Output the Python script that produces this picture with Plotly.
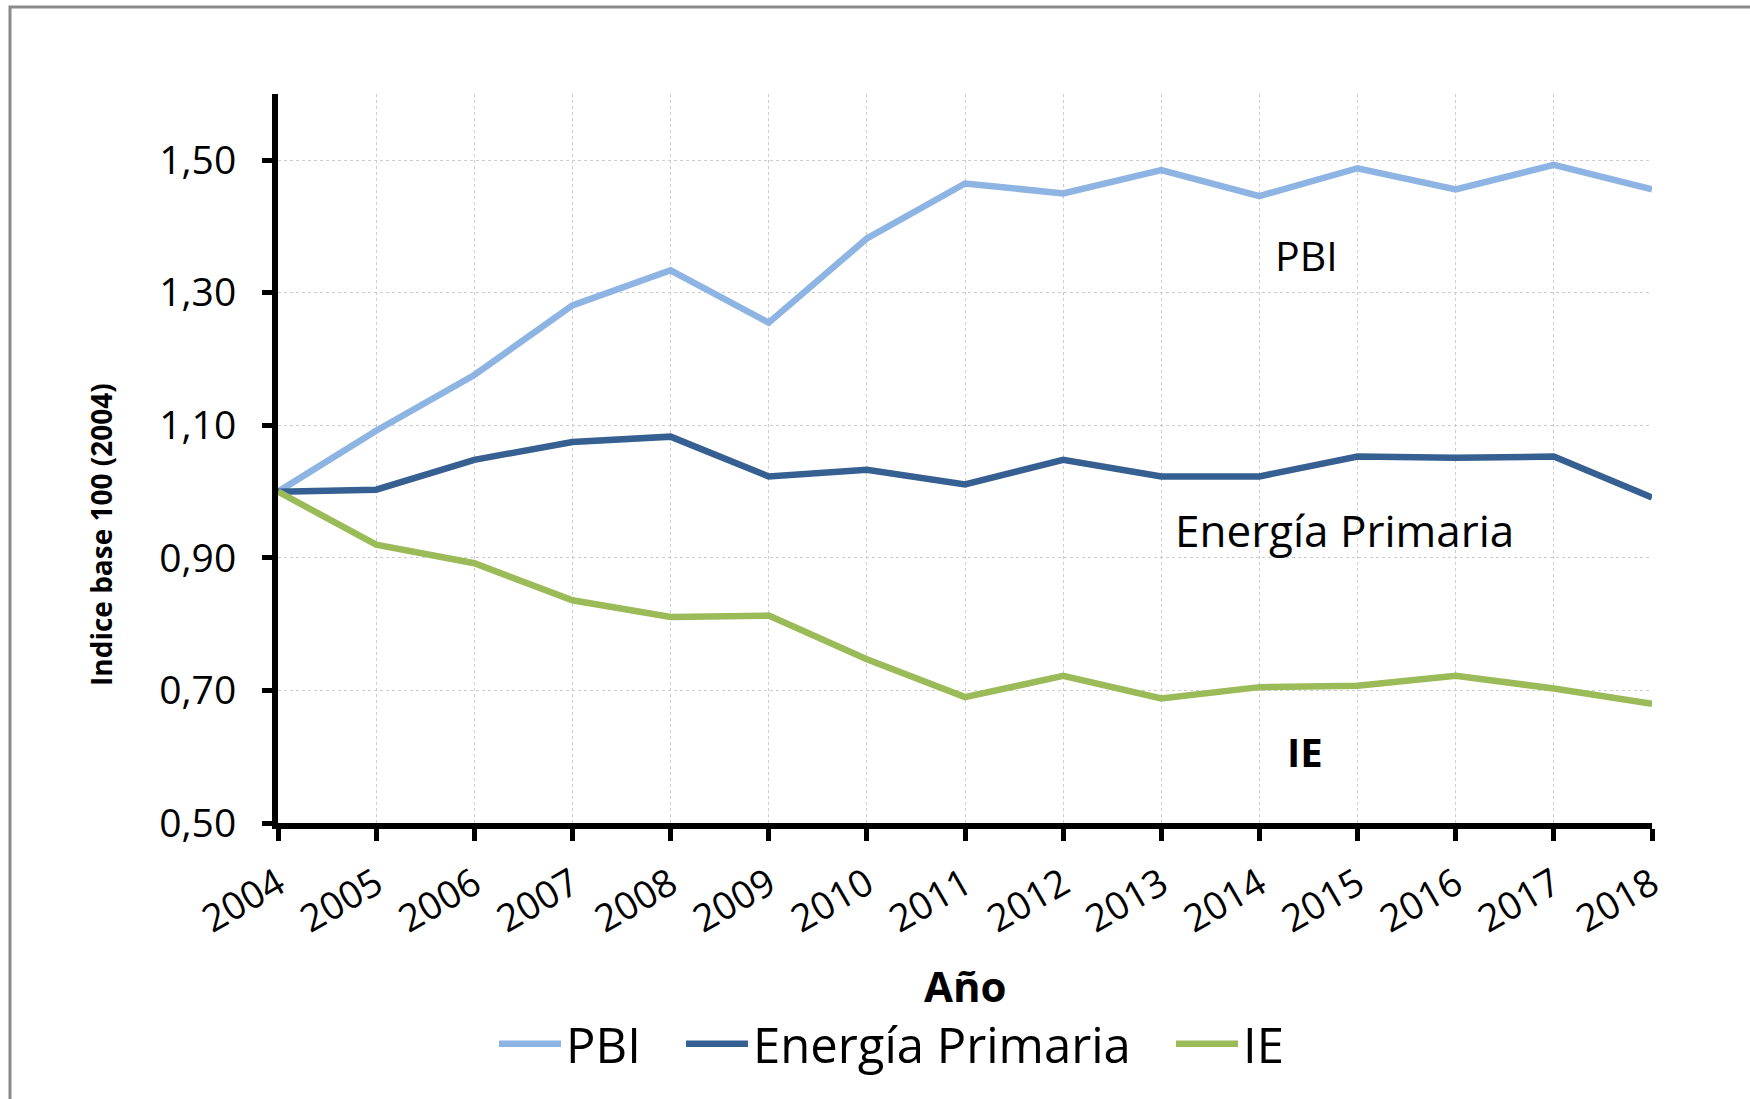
import plotly.graph_objects as go

# ---- data ----
years = list(range(2004, 2019))
pbi = [1.000, 1.092, 1.176, 1.281, 1.334, 1.255, 1.382, 1.465, 1.450, 1.485, 1.446, 1.488, 1.456, 1.493, 1.456]
energia = [1.000, 1.003, 1.048, 1.075, 1.083, 1.023, 1.033, 1.011, 1.048, 1.023, 1.023, 1.053, 1.051, 1.053, 0.991]
ie = [1.000, 0.920, 0.892, 0.836, 0.811, 0.813, 0.747, 0.690, 0.722, 0.688, 0.705, 0.707, 0.722, 0.703, 0.680]
y_tick_vals = [0.5, 0.7, 0.9, 1.1, 1.3, 1.5]
y_tick_text = ["0,50", "0,70", "0,90", "1,10", "1,30", "1,50"]
x_tick_text = [str(y) for y in years]
series_names = ["PBI", "Energía Primaria", "IE"]

# ---- style ----
FONT = "Open Sans"
colors = ["#8DB4E2", "#376092", "#9BBB59"]
W, H = 1750, 1099
ML, MR, MT, MB = 278, 98, 94, 276
PW, PH = W - ML - MR, H - MT - MB

legend_ids = ["legend", "legend2", "legend3"]
legend_left_px = [494, 681, 1171]  # left edge of each legend box (px)

fig = go.Figure()
for name, vals, col, lg in zip(series_names, [pbi, energia, ie], colors, legend_ids):
    fig.add_trace(go.Scatter(x=years, y=vals, mode="lines", name=name, legend=lg,
                             line=dict(color=col, width=6.5)))

axis_common = dict(
    showline=True, linewidth=6, linecolor="black",
    ticks="outside", tickwidth=5, tickcolor="black",
    showgrid=True, gridcolor="#cccccc", gridwidth=1, griddash="dot",
    zeroline=False, automargin=False,
)

legend_style = dict(orientation="h", xref="container", yref="container",
                    xanchor="left", y=(H - 1044) / H, yanchor="middle",
                    font=dict(size=49, color="black", family=FONT), itemwidth=62,
                    bgcolor="rgba(0,0,0,0)", borderwidth=0)

layout_legends = {}
for lg, px in zip(legend_ids, legend_left_px):
    layout_legends[lg] = dict(x=px / W, **legend_style)

fig.update_layout(
    width=W, height=H,
    margin=dict(l=ML, r=MR, t=MT, b=MB, autoexpand=False),
    paper_bgcolor="white", plot_bgcolor="white",
    font=dict(family=FONT, color="black"),
    xaxis=dict(range=[2004, 2018], tickvals=years, ticktext=x_tick_text,
               tickangle=-30, ticklen=12, tickfont=dict(size=38, color="black"),
               ticklabelstandoff=6,
               **axis_common),
    yaxis=dict(range=[0.5, 1.6], tickvals=y_tick_vals, ticktext=y_tick_text,
               ticklen=10, tickfont=dict(size=39, color="black"), ticklabelstandoff=18,
               **axis_common),
    showlegend=True,
    **layout_legends,
)

# axis titles
fig.add_annotation(xref="paper", yref="paper", x=0.5, y=(H - MB - 985) / PH,
                   yanchor="middle", text="<b>Año</b>", showarrow=False,
                   font=dict(size=42, color="black", family=FONT))
fig.add_annotation(xref="paper", yref="paper", x=(80 - ML) / PW, y=(H - MB - 535) / PH,
                   text="<b>Indice base 100 (2004)</b>", textangle=-90, showarrow=False,
                   font=dict(size=28, color="black", family=FONT))

# series labels inside the plot
fig.add_annotation(x=2014.48, y=1.357, text="PBI", showarrow=False,
                   font=dict(size=41, color="black", family=FONT))
fig.add_annotation(x=2014.87, y=0.942, text="Energía Primaria", showarrow=False,
                   font=dict(size=44, color="black", family=FONT))
fig.add_annotation(x=2014.46, y=0.608, text="<b>IE</b>", showarrow=False,
                   font=dict(size=40, color="black", family=FONT))

# chart-area border (partially cropped on right/bottom in the original)
fig.add_shape(type="rect", xref="paper", yref="paper",
              x0=(10 - ML) / PW, x1=(W + 40 - ML) / PW,
              y0=(H - MB - (H + 40)) / PH, y1=(H - MB - 7) / PH,
              line=dict(color="#8a8a8a", width=3), fillcolor="rgba(0,0,0,0)", layer="below")

fig.write_html("out.html", config={"displayModeBar": False},
               post_script="document.body.style.margin='0';")
